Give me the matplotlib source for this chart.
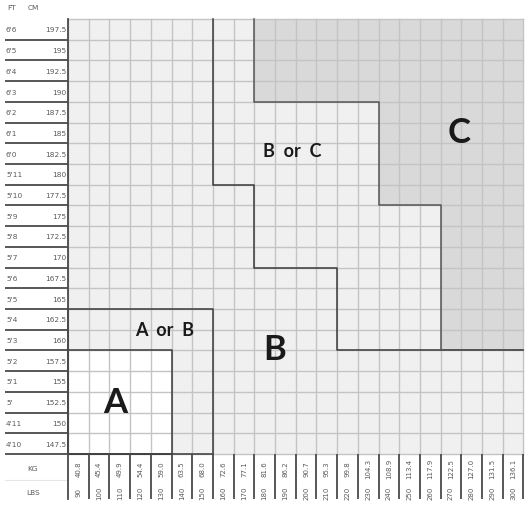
import matplotlib
matplotlib.use('Agg')
import matplotlib.pyplot as plt
from matplotlib.patches import Polygon, Rectangle

# height rows, top to bottom
FT = ["6'6", "6'5", "6'4", "6'3", "6'2", "6'1", "6'0", "5'11", "5'10", "5'9", "5'8",
      "5'7", "5'6", "5'5", "5'4", "5'3", "5'2", "5'1", "5'", "4'11", "4'10"]
CM = ["197.5", "195", "192.5", "190", "187.5", "185", "182.5", "180", "177.5", "175",
      "172.5", "170", "167.5", "165", "162.5", "160", "157.5", "155", "152.5", "150", "147.5"]
# weight columns, left to right
LBS = [90, 100, 110, 120, 130, 140, 150, 160, 170, 180, 190, 200, 210, 220, 230, 240,
       250, 260, 270, 280, 290, 300]
KG = ["40.8", "45.4", "49.9", "54.4", "59.0", "63.5", "68.0", "72.6", "77.1", "81.6",
      "86.2", "90.7", "95.3", "99.8", "104.3", "108.9", "113.4", "117.9", "122.5",
      "127.0", "131.5", "136.1"]

# zone outlines in (column, row-from-bottom) cell units
ZONE_A = [(0, 0), (5, 0), (5, 5), (0, 5)]
ZONE_AB = [(0, 0), (7, 0), (7, 7), (0, 7)]
LINE_BC = [(7, 21), (7, 13), (9, 13), (9, 9), (13, 9), (13, 5), (22, 5)]
ZONE_C = [(9, 21), (9, 17), (15, 17), (15, 12), (18, 12), (18, 5), (22, 5), (22, 21)]
ZONE_TEXT = [("A", 2.27, 2.5, 25), ("B", 10.0, 5.05, 25), ("C", 18.9, 15.55, 25),
             ("A  or  B", 4.66, 6.0, 13), ("B  or  C", 10.85, 14.65, 13)]

n_cols = len(LBS)
n_rows = len(FT)
u = 20.7  # pixels per cell

fig = plt.figure(figsize=(5.30, 5.06), dpi=100)
ax = fig.add_axes([0, 0, 1, 1])
ax.set_xlim(-68 / u, (530 - 68) / u)
ax.set_ylim(-(506 - 455) / u, n_rows + 20 / u)
ax.axis('off')

# backgrounds
ax.add_patch(Rectangle((0, 0), n_cols, n_rows, facecolor='#f0f0f0', edgecolor='none', zorder=0))
ax.add_patch(Polygon(ZONE_A, closed=True, facecolor='white', edgecolor='none', zorder=1))
ax.add_patch(Polygon(ZONE_C, closed=True, facecolor='#d9d9d9', edgecolor='none', zorder=1))

# grid
for i in range(n_cols + 1):
    ax.plot([i, i], [0, n_rows], color='#c4c4c4', lw=1.0, zorder=2)
for j in range(n_rows + 1):
    ax.plot([0, n_cols], [j, j], color='#c4c4c4', lw=1.0, zorder=2)

# zone borders
for pts in (ZONE_A, ZONE_AB):
    xs = [p[0] for p in pts] + [pts[0][0]]
    ys = [p[1] for p in pts] + [pts[0][1]]
    ax.plot(xs, ys, color='#3a3a3a', lw=1.1, zorder=3)
ax.plot([p[0] for p in LINE_BC], [p[1] for p in LINE_BC], color='#3a3a3a', lw=1.1, zorder=3)
c_edge = ZONE_C[:-1]
ax.plot([p[0] for p in c_edge], [p[1] for p in c_edge], color='#555555', lw=1.1, zorder=3)

for txt, x, y, fs in ZONE_TEXT:
    ax.text(x, y, txt, ha='center', va='center', fontsize=fs, fontweight='bold',
            family=['Lato', 'DejaVu Sans'], color='#1a1a1a', zorder=4)

# left labels
lab_col = '#5a5a5a'
x_ft = -62 / u
x_cm = -1.5 / u
ax.text(x_ft + 0.05, n_rows + 12 / u, "FT", ha='left', va='center', fontsize=5.3, color=lab_col)
ax.text(-40 / u, n_rows + 12 / u, "CM", ha='left', va='center', fontsize=5.3, color=lab_col)
for k in range(n_rows):
    y = n_rows - k - 0.5
    ax.text(x_ft, y, FT[k], ha='left', va='center', fontsize=5.3, color=lab_col)
    ax.text(x_cm, y, CM[k], ha='right', va='center', fontsize=5.3, color=lab_col)
for j in range(n_rows):
    ax.plot([-63 / u, 0], [j, j], color='#4a4a4a', lw=1.3, zorder=3, solid_capstyle='butt')
ax.plot([0, 0], [n_rows, -45 / u], color='#4a4a4a', lw=1.3, zorder=3)

# bottom labels
y_kg = -14 / u
y_lbs = -38 / u
ax.text(-35 / u, y_kg, "KG", ha='center', va='center', fontsize=5.3, color=lab_col)
ax.text(-35 / u, y_lbs, "LBS", ha='center', va='center', fontsize=5.3, color=lab_col)
ax.plot([-63 / u, 0], [-26 / u, -26 / u], color='#e6e6e6', lw=0.8)
for i in range(n_cols):
    ax.text(i + 0.5, y_kg, KG[i], ha='center', va='center', rotation=90, fontsize=5.0, color=lab_col)
    ax.text(i + 0.5, y_lbs, str(LBS[i]), ha='center', va='center', rotation=90, fontsize=5.0, color=lab_col)
for i in range(1, n_cols + 1):
    ax.plot([i, i], [0, -45 / u], color='#4a4a4a', lw=1.3, zorder=3, solid_capstyle='butt')

fig.savefig('out.png', dpi=100)
